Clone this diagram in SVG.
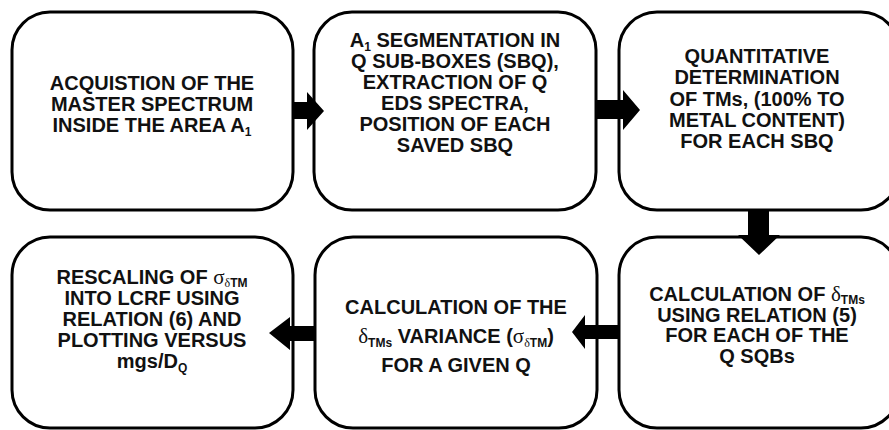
<svg xmlns="http://www.w3.org/2000/svg" width="889" height="430" viewBox="0 0 889 430">
<style>
.box{fill:#fff;stroke:#000;stroke-width:3}
.t{font-family:"Liberation Sans",Arial,sans-serif;font-weight:bold;font-size:20px;fill:#111;text-anchor:middle}
.sub{font-size:12px}
.gr{font-family:"Liberation Serif","DejaVu Serif",serif;font-weight:normal}
.arr{fill:#000}
</style>
<rect width="889" height="430" fill="#fff"/>
<g id="n1">
<rect class="box" x="12" y="12" width="281" height="198" rx="38"/>
<text class="t" x="152" y="90">ACQUISTION OF THE</text>
<text class="t" x="152" y="111">MASTER SPECTRUM</text>
<text class="t" x="152" y="132">INSIDE THE AREA A<tspan class="sub" dy="4">1</tspan></text>
</g>
<g id="n2">
<rect class="box" x="314" y="12" width="282" height="198" rx="38"/>
<text class="t" x="455" y="47">A<tspan class="sub" dy="4">1</tspan><tspan dy="-4"> SEGMENTATION IN</tspan></text>
<text class="t" x="455" y="68">Q SUB-BOXES (SBQ),</text>
<text class="t" x="455" y="89">EXTRACTION OF Q</text>
<text class="t" x="455" y="110">EDS SPECTRA,</text>
<text class="t" x="455" y="131">POSITION OF EACH</text>
<text class="t" x="455" y="152">SAVED SBQ</text>
</g>
<g id="n3">
<rect class="box" x="619" y="12" width="280" height="198" rx="38"/>
<text class="t" x="757" y="63">QUANTITATIVE</text>
<text class="t" x="757" y="84">DETERMINATION</text>
<text class="t" x="757" y="106">OF TMs, (100% TO</text>
<text class="t" x="757" y="127">METAL CONTENT)</text>
<text class="t" x="757" y="148">FOR EACH SBQ</text>
</g>
<g id="n4">
<rect class="box" x="12" y="237" width="281" height="191" rx="38"/>
<text class="t" x="152" y="284">RESCALING OF <tspan class="gr" font-size="21">σ</tspan><tspan class="sub gr" dy="3">δ</tspan><tspan class="sub">TM</tspan></text>
<text class="t" x="152" y="305">INTO LCRF USING</text>
<text class="t" x="152" y="326">RELATION (6) AND</text>
<text class="t" x="152" y="347">PLOTTING VERSUS</text>
<text class="t" x="152" y="368">mgs/D<tspan class="sub" dy="4">Q</tspan></text>
</g>
<g id="n5">
<rect class="box" x="315" y="237" width="282" height="191" rx="38"/>
<text class="t" x="456" y="314">CALCULATION OF THE</text>
<text class="t" x="456" y="343"><tspan class="gr" font-size="21">δ</tspan><tspan class="sub" dy="4">TMs</tspan><tspan dy="-4"> VARIANCE (</tspan><tspan class="gr" font-size="21">σ</tspan><tspan class="sub gr" dy="4">δ</tspan><tspan class="sub">TM</tspan><tspan dy="-4">)</tspan></text>
<text class="t" x="456" y="372">FOR A GIVEN Q</text>
</g>
<g id="n6">
<rect class="box" x="619" y="237" width="280" height="191" rx="38"/>
<text class="t" x="757" y="301">CALCULATION OF <tspan class="gr" font-size="21">δ</tspan><tspan class="sub" dy="3">TMs</tspan></text>
<text class="t" x="757" y="322">USING RELATION (5)</text>
<text class="t" x="757" y="342">FOR EACH OF THE</text>
<text class="t" x="757" y="363">Q SQBs</text>
</g>
<g id="connectors">
<polygon class="arr" points="292,102 307,102 307,92 324,111 307,130 307,119 292,119"/>
<polygon class="arr" points="596,100 623,100 623,90 640,110 623,130 623,119 596,119"/>
<polygon class="arr" points="748,209 769,209 769,235 780,235 759,255 738,235 748,235"/>
<polygon class="arr" points="619,325 585,325 585,315 572,332 585,349 585,339 619,339"/>
<polygon class="arr" points="314,326 290,326 290,317 269,333 290,350 290,341 314,341"/>
</g>
</svg>
